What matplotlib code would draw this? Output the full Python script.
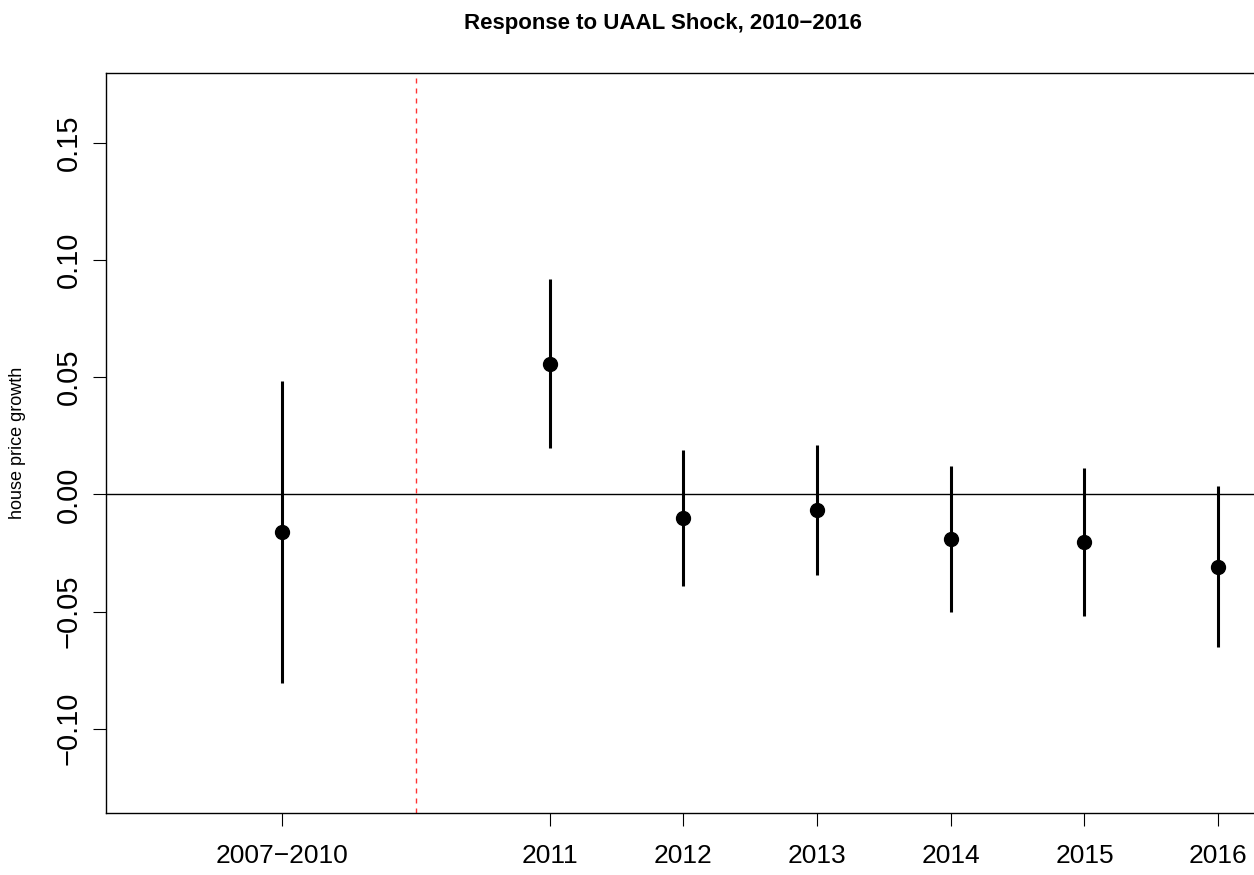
import matplotlib
matplotlib.use("Agg")
import matplotlib.pyplot as plt

# ---- data ----
periods = ["2007\u22122010", "2011", "2012", "2013", "2014", "2015", "2016"]
positions = [1, 3, 4, 5, 6, 7, 8]
estimates = [-0.0161, 0.0556, -0.0100, -0.0067, -0.0191, -0.0203, -0.0311]
ci_low = [-0.0804, 0.0199, -0.0390, -0.0344, -0.0501, -0.0519, -0.0653]
ci_high = [0.0485, 0.0917, 0.0189, 0.0212, 0.0121, 0.0114, 0.0035]
break_position = 2
yticks = [-0.10, -0.05, 0.00, 0.05, 0.10, 0.15]
ytick_labels = ["\u22120.10", "\u22120.05", "0.00", "0.05", "0.10", "0.15"]

plt.rcParams['font.family'] = ['Liberation Sans', 'DejaVu Sans']

W, H = 1254, 875
fig = plt.figure(figsize=(W / 100, H / 100), dpi=100)
left, right, top, bottom = 105.7, 1261.0, 73.3, 812.7
ax = fig.add_axes([left / W, 1 - bottom / H, (right - left) / W, (bottom - top) / H])

ax.set_xlim(-0.32, 8.32)
ax.set_ylim(-0.1358, 0.1796)

ax.axhline(0, color='black', lw=1.0, zorder=1)
ax.axvline(break_position, color='#ff3333', lw=1.0, dashes=(3.6, 3.6), zorder=1)
ax.vlines(positions, ci_low, ci_high, color='black', lw=2.2, zorder=2)
ax.plot(positions, estimates, 'o', color='black', markersize=10, zorder=3)

ax.set_xticks(positions)
ax.set_xticklabels(periods, fontsize=19)
ax.set_yticks(yticks)
ax.set_yticklabels(ytick_labels, fontsize=21, rotation=90, va='center')

ax.tick_params(axis='x', length=9.4, width=0.8, pad=13)
ax.tick_params(axis='y', length=9.4, width=0.8, pad=7)

for s in ax.spines.values():
    s.set_linewidth(1.0)

fig.text(18 / W, 1 - 443 / H, "house price growth", rotation=90,
         ha='center', va='center', fontsize=13)
fig.text(663 / W, 1 - 24 / H, "Response to UAAL Shock, 2010\u22122016",
         ha='center', va='center', fontsize=16, fontweight='bold')

fig.savefig("out.png", dpi=100)
